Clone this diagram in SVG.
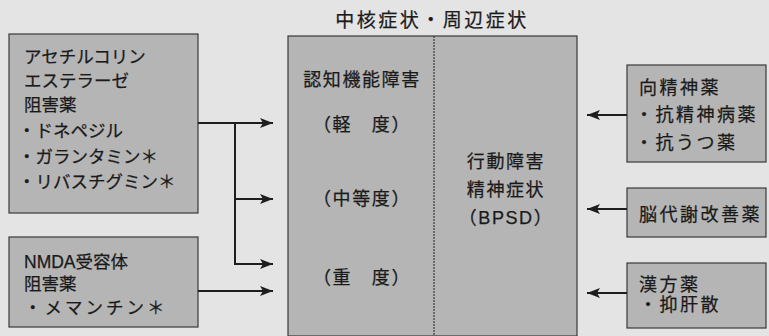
<svg xmlns="http://www.w3.org/2000/svg" width="769" height="336" viewBox="0 0 769 336">
<defs>
<style>
.bg{fill:#e4e4e4}
.box{fill:#b5b5b5;stroke:#3a3a3a;stroke-width:1.2}
.t{font-family:"Liberation Sans","Noto Sans CJK JP",sans-serif;fill:#1a1a1a;stroke:#1a1a1a;stroke-width:0.25}
.l{font-size:17.5px}
.r{font-size:18px;letter-spacing:2.5px}
.c{font-size:18px;letter-spacing:1.6px;text-anchor:middle}
.ln{fill:none;stroke:#1e1e1e;stroke-width:2}
</style>
<marker id="ah" markerWidth="14" markerHeight="10" refX="13" refY="5" orient="auto" markerUnits="userSpaceOnUse">
<path d="M0,0 L13,5 L0,10 L3,5 Z" fill="#1e1e1e"/>
</marker>
</defs>
<rect class="bg" x="0" y="0" width="769" height="336"/>
<g id="title">
<text class="t" x="432" y="27" font-size="19" letter-spacing="2.5" text-anchor="middle">中核症状・周辺症状</text>
</g>
<g id="center">
<rect class="box" x="288" y="36" width="289" height="300"/>
<line x1="434" y1="36" x2="434" y2="336" stroke="#3a3a3a" stroke-width="1.2" stroke-dasharray="2,1"/>
<text class="t c" x="362" y="86">認知機能障害</text>
<text class="t c" x="362" y="131">（軽　度）</text>
<text class="t c" x="362" y="205">（中等度）</text>
<text class="t c" x="362" y="284">（重　度）</text>
<text class="t c" x="506" y="168">行動障害</text>
<text class="t c" x="506" y="196">精神症状</text>
<text class="t c" x="506" y="224">（BPSD）</text>
</g>
<g id="ache">
<rect class="box" x="9" y="34" width="189" height="179"/>
<text class="t l" x="24" y="63">アセチルコリン</text>
<text class="t l" x="24" y="87">エステラーゼ</text>
<text class="t l" x="24" y="111">阻害薬</text>
<text class="t l" x="18" y="137">・ドネペジル</text>
<text class="t l" x="18" y="163">・ガランタミン＊</text>
<text class="t l" x="18" y="188">・リバスチグミン＊</text>
</g>
<g id="nmda">
<rect class="box" x="9" y="237" width="189" height="90"/>
<text class="t l" x="24" y="268">NMDA受容体</text>
<text class="t l" x="24" y="290">阻害薬</text>
<text class="t l" x="24" y="314" letter-spacing="3">・メマンチン＊</text>
</g>
<g id="psy">
<rect class="box" x="627" y="65" width="139" height="97"/>
<text class="t r" x="639" y="94">向精神薬</text>
<text class="t r" x="635" y="121" letter-spacing="1">・抗精神病薬</text>
<text class="t r" x="635" y="149" letter-spacing="1">・抗うつ薬</text>
</g>
<g id="brain">
<rect class="box" x="627" y="188" width="139" height="49"/>
<text class="t r" x="639" y="221">脳代謝改善薬</text>
</g>
<g id="kampo">
<rect class="box" x="627" y="263" width="139" height="65"/>
<text class="t r" x="639" y="291">漢方薬</text>
<text class="t r" x="639" y="311">・抑肝散</text>
</g>
<g id="connectors">
<path class="ln" d="M198,123 H273" marker-end="url(#ah)"/>
<path class="ln" d="M235,123 V264 H273" marker-end="url(#ah)"/>
<path class="ln" d="M235,199 H273" marker-end="url(#ah)"/>
<path class="ln" d="M198,291 H273" marker-end="url(#ah)"/>
<path class="ln" d="M627,115 H587" marker-end="url(#ah)"/>
<path class="ln" d="M627,209 H587" marker-end="url(#ah)"/>
<path class="ln" d="M627,293 H587" marker-end="url(#ah)"/>
</g>
</svg>
